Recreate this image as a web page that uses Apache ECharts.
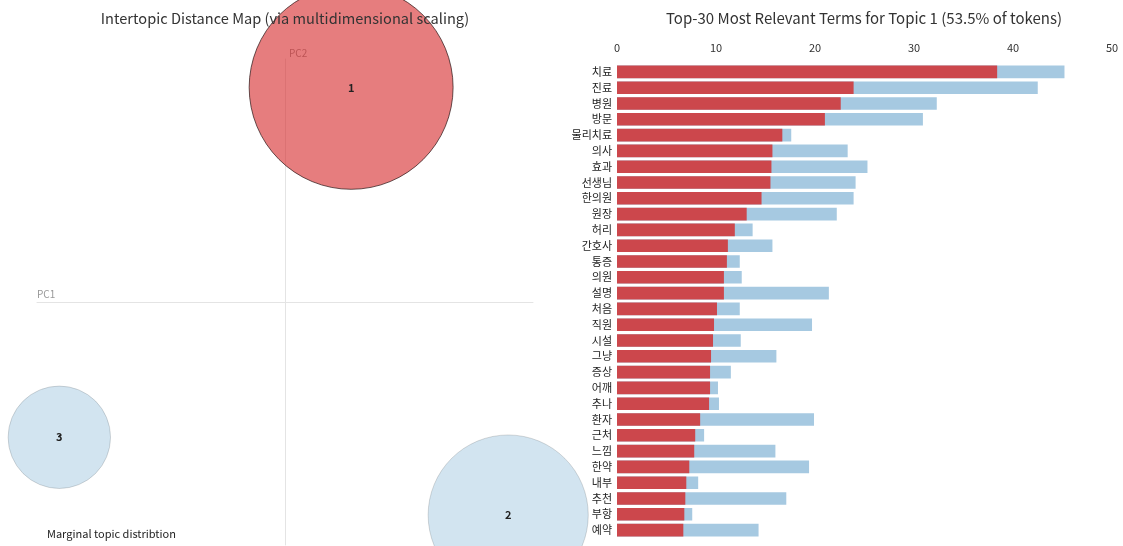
<!DOCTYPE html>
<html>
<head>
<meta charset="utf-8">
<script src="https://cdn.jsdelivr.net/npm/echarts@6/dist/echarts.min.js"></script>
<style>
  html, body { margin: 0; padding: 0; background: #fff; }
  #chart { width: 1123px; height: 546px; }
</style>
</head>
<body>
<div id="chart"></div>
<script>
// Topic map: MDS coordinates and marginal topic share (%)
const topicIds = ['1', '2', '3'];
const topicPC1 = [0.08, 0.27, -0.273];
const topicPC2 = [0.265, -0.263, -0.167];
const topicShare = [53.5, 33.0, 13.5];

// Top-30 terms for topic 1
const terms = ['치료', '진료', '병원', '방문', '물리치료', '의사', '효과', '선생님', '한의원', '원장',
  '허리', '간호사', '통증', '의원', '설명', '처음', '직원', '시설', '그냥', '증상',
  '어깨', '추나', '환자', '근처', '느낌', '한약', '내부', '추천', '부항', '예약'];
// Estimated term frequency within topic 1
const topicFreq = [38.4, 23.9, 22.6, 21.0, 16.7, 15.7, 15.6, 15.5, 14.6, 13.1,
  11.9, 11.2, 11.1, 10.8, 10.8, 10.1, 9.8, 9.7, 9.5, 9.4,
  9.4, 9.3, 8.4, 7.9, 7.8, 7.3, 7.0, 6.9, 6.8, 6.7];
// Overall term frequency
const overallFreq = [45.2, 42.5, 32.3, 30.9, 17.6, 23.3, 25.3, 24.1, 23.9, 22.2,
  13.7, 15.7, 12.4, 12.6, 21.4, 12.4, 19.7, 12.5, 16.1, 11.5,
  10.2, 10.3, 19.9, 8.8, 16.0, 19.4, 8.2, 17.1, 7.6, 14.3];
const freqTicks = [0, 10, 20, 30, 40, 50];

const FONT = '"Noto Sans CJK KR", "Noto Sans", sans-serif';
const RADIUS_SCALE = 139.4; // px radius for a topic holding 100% of tokens
const selectedTopic = '1';

const chart = echarts.init(document.getElementById('chart'), null, { renderer: 'canvas' });

const topicData = topicIds.map((id, i) => ({
  name: id,
  value: [topicPC1[i], topicPC2[i], topicShare[i]],
  itemStyle: id === selectedTopic
    ? { color: 'rgba(214,39,40,0.6)', borderColor: 'rgba(40,20,20,0.7)', borderWidth: 1, opacity: 1 }
    : { color: 'rgba(31,119,180,0.2)', borderColor: 'rgba(0,0,0,0.14)', borderWidth: 1, opacity: 1 }
}));

const option = {
  animation: false,
  textStyle: { fontFamily: FONT },
  title: [
    {
      text: 'Intertopic Distance Map (via multidimensional scaling)',
      left: 285, top: 11, padding: 0, textAlign: 'center',
      textStyle: { fontFamily: FONT, fontSize: 14.6, fontWeight: 'normal', color: '#333' }
    },
    {
      text: 'Top-30 Most Relevant Terms for Topic 1 (53.5% of tokens)',
      left: 864, top: 11, padding: 0, textAlign: 'center',
      textStyle: { fontFamily: FONT, fontSize: 15, fontWeight: 'normal', color: '#333' }
    }
  ],
  grid: [
    { left: 37, top: 59, width: 496, height: 486 },
    { left: 617, top: 64, width: 495, height: 474 }
  ],
  xAxis: [
    {
      gridIndex: 0, type: 'value', min: -0.3, max: 0.3,
      name: 'PC1', nameLocation: 'start', nameGap: 0,
      nameTextStyle: { fontFamily: FONT, fontSize: 10, color: '#999', align: 'left', verticalAlign: 'bottom', padding: [0, 0, 3, 0] },
      axisLine: { show: true, onZero: true, lineStyle: { color: '#e4e4e4', width: 1 } },
      axisTick: { show: false }, axisLabel: { show: false }, splitLine: { show: false }
    },
    {
      gridIndex: 1, type: 'value', position: 'top', min: freqTicks[0], max: freqTicks[freqTicks.length - 1], interval: 10,
      axisLine: { show: false }, axisTick: { show: false }, splitLine: { show: false },
      axisLabel: { fontFamily: FONT, fontSize: 11, color: '#333', margin: 11 }
    }
  ],
  yAxis: [
    {
      gridIndex: 0, type: 'value', min: -0.3, max: 0.3,
      name: 'PC2', nameLocation: 'end', nameGap: 1,
      nameTextStyle: { fontFamily: FONT, fontSize: 10, color: '#999', align: 'left', padding: [0, 0, 0, 4] },
      axisLine: { show: true, onZero: true, lineStyle: { color: '#e4e4e4', width: 1 } },
      axisTick: { show: false }, axisLabel: { show: false }, splitLine: { show: false }
    },
    {
      gridIndex: 1, type: 'category', data: terms, inverse: true,
      axisLine: { show: false }, axisTick: { show: false },
      axisLabel: { fontFamily: FONT, fontSize: 11, color: '#222', margin: 5 }
    }
  ],
  series: [
    {
      type: 'scatter', xAxisIndex: 0, yAxisIndex: 0, clip: false,
      data: topicData,
      symbolSize: (val) => 2 * RADIUS_SCALE * Math.sqrt(val[2] / 100),
      label: {
        show: true, position: 'inside', formatter: '{b}',
        fontFamily: FONT, fontSize: 11, fontWeight: 'bold', color: '#222'
      },
      z: 2
    },
    {
      type: 'bar', xAxisIndex: 1, yAxisIndex: 1, name: 'Overall term frequency',
      data: overallFreq, barCategoryGap: '20%', barGap: '-100%',
      itemStyle: { color: '#a6c9e1' }, z: 2
    },
    {
      type: 'bar', xAxisIndex: 1, yAxisIndex: 1, name: 'Estimated term frequency within the selected topic',
      data: topicFreq, barCategoryGap: '20%', barGap: '-100%',
      itemStyle: { color: '#cc474c' }, z: 3
    }
  ],
  graphic: [
    {
      type: 'text', left: 47, top: 528,
      style: { text: 'Marginal topic distribtion', font: '11px ' + FONT, fill: '#222' }
    }
  ]
};

chart.setOption(option);
</script>
</body>
</html>
